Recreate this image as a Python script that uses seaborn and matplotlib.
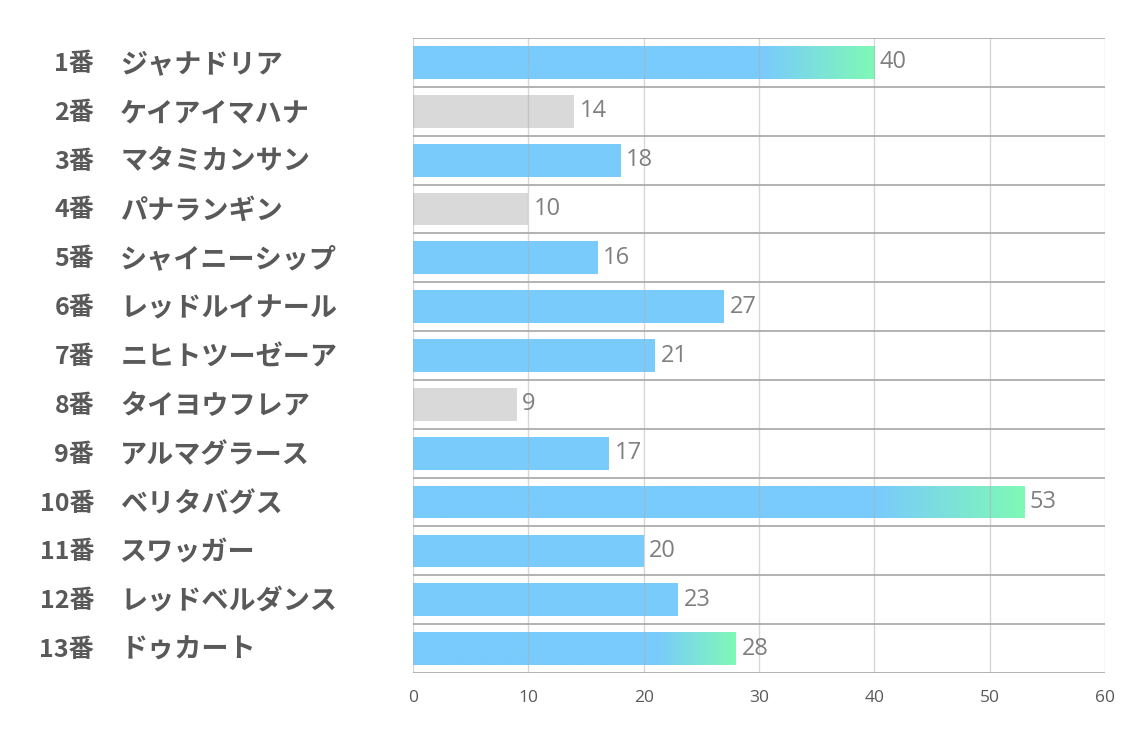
"""
Horizontal bar chart of horse scores (1番-13番).
Top 3 bars get a blue->green gradient tip, bottom 3 are gray.
"""

import numpy as np
import pandas as pd
import matplotlib
matplotlib.use("Agg")
import matplotlib.pyplot as plt
import matplotlib.transforms as mtransforms
from matplotlib.colors import LinearSegmentedColormap
import seaborn as sns

# data
numbers = ["1番", "2番", "3番", "4番", "5番", "6番", "7番",
           "8番", "9番", "10番", "11番", "12番", "13番"]
names = ["ジャナドリア", "ケイアイマハナ", "マタミカンサン", "パナランギン",
         "シャイニーシップ", "レッドルイナール", "ニヒトツーゼーア", "タイヨウフレア",
         "アルマグラース", "ベリタバグス", "スワッガー", "レッドベルダンス", "ドゥカート"]
values = [40, 14, 18, 10, 16, 27, 21, 9, 17, 53, 20, 23, 28]
x_ticks = [0, 10, 20, 30, 40, 50, 60]

BLUE = "#79cbfc"
GREEN = "#7ff9b6"
GRAY = "#d9d9d9"

df = pd.DataFrame({"label": [f"{n} {m}" for n, m in zip(numbers, names)],
                   "value": values})
ranks = df["value"].rank(method="first", ascending=False)
df["top"] = ranks <= 3
df["bottom"] = ranks > len(df) - 3
colors = [GRAY if b else BLUE for b in df["bottom"]]

sns.set_theme(style="white")
plt.rcParams["font.family"] = ["Noto Sans CJK JP", "DejaVu Sans"]

fig = plt.figure(figsize=(11.34, 7.37), dpi=100)
ax = fig.add_axes([0.3642, 0.0868, 0.6102, 0.8616])

sns.barplot(data=df, y="label", x="value", hue="label", palette=colors,
            legend=False, width=0.67, orient="h", saturation=1, ax=ax,
            linewidth=0, zorder=2)

# gradient tip on the top 3 bars
cmap = LinearSegmentedColormap.from_list(
    "tip", [(0, BLUE), (0.76, BLUE), (1, GREEN)])
grad = np.linspace(0, 1, 256).reshape(1, -1)
for patch, is_top in zip(ax.patches, df["top"]):
    if not is_top:
        continue
    x0, y0 = patch.get_x(), patch.get_y()
    w, h = patch.get_width(), patch.get_height()
    im = ax.imshow(grad, cmap=cmap, aspect="auto", zorder=2.5,
                   extent=(x0, x0 + w, y0 + h, y0), interpolation="bilinear")
    im.set_clip_path(patch)

ax.set_xlim(0, 60)
ax.set_ylim(len(df) - 0.5, -0.5)

# grid: vertical light, horizontal row separators darker
for xv in x_ticks:
    ax.axvline(xv, color="#b0b0b0", alpha=0.5, lw=1, zorder=3)
for yv in np.arange(-0.5, len(df), 1.0):
    ax.axhline(yv, color="#a6a6a6", lw=1.2, zorder=3)

for s in ax.spines.values():
    s.set_visible(False)

ax.set_xticks(x_ticks)
ax.set_xticklabels([str(t) for t in x_ticks], fontsize=12.5,
                   color="#595959", family=["Open Sans", "DejaVu Sans"])
ax.tick_params(axis="x", length=0, pad=12)
ax.set_yticks([])
ax.set_xlabel("")
ax.set_ylabel("")

# value labels
for i, v in enumerate(df["value"]):
    ax.annotate(str(v), (v, i), xytext=(4, 0), textcoords="offset points",
                va="center", ha="left", fontsize=17, color="#7f7f7f",
                family=["Open Sans", "DejaVu Sans"], zorder=4)

# left labels: number right-aligned, name left-aligned
trans = mtransforms.blended_transform_factory(fig.transFigure, ax.transData)
for i, (n, m) in enumerate(zip(numbers, names)):
    ax.text(0.083, i + 0.03, n, transform=trans, ha="right", va="center",
            fontsize=18, fontweight="bold", color="#595959")
    ax.text(0.106, i + 0.03, m, transform=trans, ha="left", va="center",
            fontsize=19.5, fontweight="bold", color="#595959")

fig.savefig("out.png", dpi=100)
